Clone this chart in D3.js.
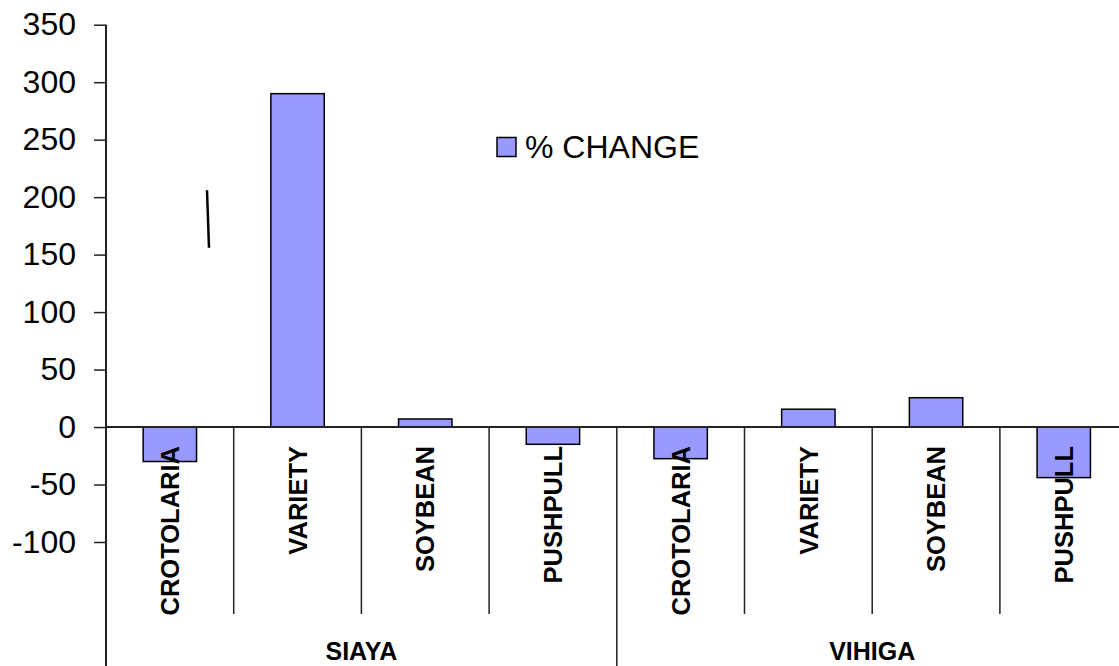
<html>
<head>
<meta charset="utf-8">
<script src='https://cdnjs.cloudflare.com/ajax/libs/d3/7.8.5/d3.min.js'></script>
<style>
    body { margin: 0; background: #fff; }
    text { font-family: "Liberation Sans", Arial, sans-serif; fill: #000; }
    .bar { fill: #9999ff; stroke: #000; stroke-width: 1.5; }
</style>
</head>
<body onload='init()'>
<svg width=1119 height=666 id="chart1"></svg>
<script>
    var groups = ["SIAYA", "VIHIGA"];
    var practices = ["CROTOLARIA", "VARIETY", "SOYBEAN", "PUSHPULL"];
    var siayaChange = [-30, 290, 7, -15];
    var vihigaChange = [-27.5, 15.5, 25.5, -44];
    var yTicks = [-100, -50, 0, 50, 100, 150, 200, 250, 300, 350];
    var seriesName = "% CHANGE";

    function init() {
        var svg = d3.select("svg");

        // one row per bar, group + practice
        var data = [];
        [siayaChange, vihigaChange].forEach(function (vals, gi) {
            vals.forEach(function (v, pi) {
                data.push({ group: groups[gi], practice: practices[pi], key: gi + "-" + pi, value: v });
            });
        });

        var left = 106, step = 127.7;
        var xScale = d3.scaleBand()
            .domain(data.map(function (d) { return d.key; }))
            .range([left, left + step * data.length])
            .padding(0);
        var yScale = d3.scaleLinear().domain([-100, 350]).range([542, 24.7]);
        var bw = xScale.bandwidth(), barW = bw * 0.418;
        var y0 = yScale(0), sepBottom = 614, H = 666;

        // y axis
        var yAxis = svg.append("g")
            .attr("transform", "translate(" + left + ",0)")
            .call(d3.axisLeft(yScale).tickValues(yTicks).tickSize(12).tickPadding(18)
                .tickFormat(function (d) { return String(d); }));
        yAxis.select(".domain").remove();
        yAxis.selectAll(".tick line").attr("stroke", "#222").attr("stroke-width", 1.5);
        yAxis.selectAll(".tick text")
            .style("font-size", "32px")
            .style("font-family", "Liberation Sans, Arial, sans-serif")
            .attr("fill", "#000");

        svg.append("line")
            .attr("x1", left).attr("x2", left)
            .attr("y1", yScale(350)).attr("y2", H)
            .attr("stroke", "#222").attr("stroke-width", 2);

        // bars
        svg.selectAll(".bar")
            .data(data)
            .enter()
            .append("rect")
            .attr("class", "bar")
            .attr("x", function (d) { return xScale(d.key) + (bw - barW) / 2; })
            .attr("y", function (d) { return yScale(Math.max(0, d.value)); })
            .attr("width", barW)
            .attr("height", function (d) { return Math.abs(yScale(d.value) - y0); });

        // zero line
        svg.append("line")
            .attr("x1", left).attr("x2", 1119)
            .attr("y1", y0).attr("y2", y0)
            .attr("stroke", "#222").attr("stroke-width", 2);

        // category separators
        data.forEach(function (d, i) {
            if (i == 0) return;
            var x = xScale(d.key);
            var isGroup = i % practices.length == 0;
            svg.append("line")
                .attr("x1", x).attr("x2", x)
                .attr("y1", y0).attr("y2", isGroup ? H : sepBottom)
                .attr("stroke", "#222").attr("stroke-width", 1.5);
        });

        // practice labels
        svg.selectAll(".cat")
            .data(data)
            .enter()
            .append("text")
            .attr("class", "cat")
            .attr("transform", function (d) {
                return "translate(" + (xScale(d.key) + bw / 2) + ",446) rotate(-90)";
            })
            .attr("dy", "0.36em")
            .attr("text-anchor", "end")
            .style("font-size", "25.5px")
            .style("font-weight", "bold")
            .text(function (d) { return d.practice; });

        // group labels
        groups.forEach(function (g, gi) {
            var first = xScale(gi + "-0");
            svg.append("text")
                .attr("x", first + bw * practices.length / 2)
                .attr("y", 660)
                .attr("text-anchor", "middle")
                .style("font-size", "25px")
                .style("font-weight", "bold")
                .text(g);
        });

        // legend
        var lg = svg.append("g").attr("transform", "translate(497,137.5)");
        lg.append("rect").attr("class", "bar").attr("width", 19).attr("height", 19);
        lg.append("text").attr("x", 28).attr("y", 20.5)
            .style("font-size", "32px")
            .text(seriesName);

        // stray pen stroke in the original
        svg.append("line")
            .attr("x1", 207).attr("x2", 209)
            .attr("y1", yScale(206)).attr("y2", yScale(156))
            .attr("stroke", "#000").attr("stroke-width", 2.5);
    }
</script>
</body>
</html>
